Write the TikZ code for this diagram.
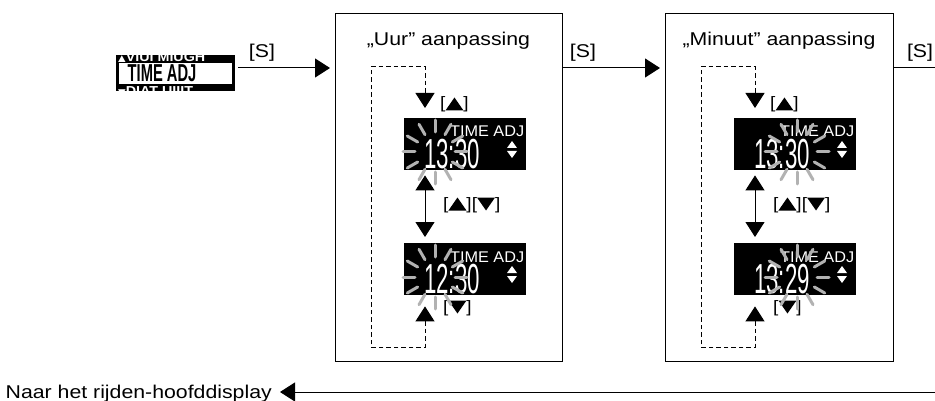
\documentclass[tikz,border=0pt]{standalone}
\usepackage{fontspec}
\setmainfont{Liberation Sans}[FakeStretch=1.15]
\newfontfamily\lcdfont{Liberation Sans}
\newfontfamily\symfont{DejaVu Sans}
\usetikzlibrary{arrows.meta,calc}

\newcommand\tup{\tikz[baseline=0pt,x=1pt,y=1pt]\fill[black] (0,-1.5)--(18,-1.5)--(9,11.5)--cycle;}
\newcommand\tdown{\tikz[baseline=0pt,x=1pt,y=1pt]\fill[black] (0,11.5)--(18,11.5)--(9,-1.5)--cycle;}

\tikzset{
  tip/.tip={Triangle[length=15pt,width=19pt]},
  conn/.style={line width=1pt, -tip},
  dashloop/.style={line width=1pt, dash pattern=on 4.5pt off 3pt},
  lbl/.style={font=\fontsize{18.5}{20}\selectfont, inner sep=0pt},
  keylbl/.style={font=\fontsize{16.5}{18}\selectfont, inner sep=0pt, anchor=base west},
  panel/.style={draw, line width=1pt, inner sep=0pt, anchor=north west},
  lcd/.style={fill=black, draw=none, minimum width=122pt, minimum height=52pt, inner sep=0pt, anchor=north west},
  digits/.style={text=white, inner sep=0pt, anchor=base west, font=\lcdfont\fontsize{42}{42}\selectfont},
  adj/.style={text=white, inner sep=0pt, anchor=base east, font=\lcdfont\fontsize{15.5}{16}\selectfont},
  ray/.style={line width=3pt, line cap=round, draw=black!30},
  strip/.style={text=white, inner sep=0pt, anchor=base west, font=\lcdfont\bfseries\fontsize{13}{13}\selectfont},
}

\newcommand\lcdtext[2]{%
  \node[digits] (#1t) at ($(#1.north west)+(20,50)$) {\scalebox{0.53}[1]{#2}};
  \node[adj] (#1a) at ($(#1.north east)+(-2,19)$) {\scalebox{1.05}[1]{TIME ADJ}};
  \fill[white] ($(#1.north west)+(103,30)$) -- ++(10,0) -- ++(-5,-7) -- cycle;
  \fill[white] ($(#1.north west)+(103,33)$) -- ++(10,0) -- ++(-5,7) -- cycle;
}
\newcommand\rays[1]{%
  \foreach \a in {0,30,...,330} \draw[ray] ($(#1)+(\a:20)$) -- ($(#1)+(\a:32)$);
}

\begin{document}
\begin{tikzpicture}[x=1pt,y=-1pt]
\useasboundingbox (0,0) rectangle (935,401);

% small display icon
\node[fill=black, minimum width=119pt, minimum height=36pt, inner sep=0pt, anchor=north west] (icon) at (116,55) {};
\node[fill=white, minimum width=113pt, minimum height=21pt, inner sep=0pt, anchor=north west] (iconwin) at (119,62.5) {};
\node[inner sep=0pt, anchor=base, font=\lcdfont\bfseries\fontsize{24.5}{24.5}\selectfont] (icontxt) at (162,82) {\scalebox{0.6}[1]{TIME ADJ}};
\begin{scope}
  \clip (icon.north west) rectangle ($(icon.north east)+(0,6.5)$);
  \node[strip] (icontop) at (118,61.5) {\scalebox{1.1}[1]{{\symfont\fontsize{9}{9}\selectfont ▲}VIUI MIUGH}};
\end{scope}
\begin{scope}
  \clip ($(icon.south west)+(0,-6.5)$) rectangle (icon.south east);
  \node[strip] (iconbot) at (118,95.5) {\scalebox{1.1}[1]{{\symfont\fontsize{9}{9}\selectfont ▼}DIAT UIIIT}};
\end{scope}

% panels
\node[panel, minimum width=227pt, minimum height=348pt] (box1) at (335,13) {};
\node[panel, minimum width=228pt, minimum height=348pt] (box2) at (665,13) {};
\node[lbl, anchor=base] (title1) at (448.5,46) {„Uur” aanpassing};
\node[lbl, anchor=base] (title2) at (779,46) {„Minuut” aanpassing};

% top [S] arrows
\coordinate (a0) at (238,68);
\coordinate (a3) at (935,68);
\draw[conn, shorten >=5pt] (a0) -- (a0 -| box1.west);
\draw[conn, shorten >=5pt] (box1.east |- a0) -- (box2.west |- a0);
\draw[line width=1pt] (box2.east |- a0) -- (a3);
\node[lbl, anchor=base] (s1) at (262,57.5) {[S]};
\node[lbl, anchor=base] (s2) at (583,57.5) {[S]};
\node[lbl, anchor=base] (s3) at (920,57.5) {[S]};

% displays
\node[lcd] (d1) at (404,118) {};
\node[lcd] (d2) at (404,243) {};
\node[lcd] (d3) at (734,118) {};
\node[lcd] (d4) at (734,243) {};
\lcdtext{d1}{13:30}
\lcdtext{d2}{12:30}
\lcdtext{d3}{13:30}
\lcdtext{d4}{13:29}

% hour loop
\coordinate (h1) at (425,347);
\coordinate (h2) at (371,347);
\coordinate (h3) at (371,67);
\coordinate (h4) at (425,67);
\draw[dashloop, tip-tip, shorten <=11pt, shorten >=10pt] (d2.south -| h1) -- (h1) -- (h2) -- (h3) -- (h4) -- (d1.north -| h4);
\draw[line width=1pt, tip-tip, shorten <=5pt, shorten >=6pt] (d1.south -| h4) -- (d2.north -| h4);

% minute loop
\coordinate (m1) at (755,347);
\coordinate (m2) at (701,347);
\coordinate (m3) at (701,67);
\coordinate (m4) at (755,67);
\draw[dashloop, tip-tip, shorten <=11pt, shorten >=10pt] (d4.south -| m1) -- (m1) -- (m2) -- (m3) -- (m4) -- (d3.north -| m4);
\draw[line width=1pt, tip-tip, shorten <=5pt, shorten >=6pt] (d3.south -| m4) -- (d4.north -| m4);

% key labels
\node[keylbl] (k1) at (440,109) {[\tup]};
\node[keylbl] (k2) at (443,209) {[\tup][\tdown]};
\node[keylbl] (k3) at (443,312) {[\tdown]};
\node[keylbl] (k4) at (770,109) {[\tup]};
\node[keylbl] (k5) at (773,209) {[\tup][\tdown]};
\node[keylbl] (k6) at (773,312) {[\tdown]};

% flashing rays
\coordinate (r1) at ($(d1.north west)+(31,34)$);
\coordinate (r2) at ($(d2.north west)+(31,34)$);
\coordinate (r3) at ($(d3.north west)+(63,34)$);
\coordinate (r4) at ($(d4.north west)+(63,34)$);
\rays{r1}
\rays{r2}
\rays{r3}
\rays{r4}

% bottom return arrow
\node[lbl, anchor=base east] (back) at (272,398) {Naar het rijden-hoofddisplay};
\coordinate (b0) at (935,392);
\draw[conn, shorten >=8pt] (b0) -- (back.east |- b0);
\end{tikzpicture}
\end{document}
